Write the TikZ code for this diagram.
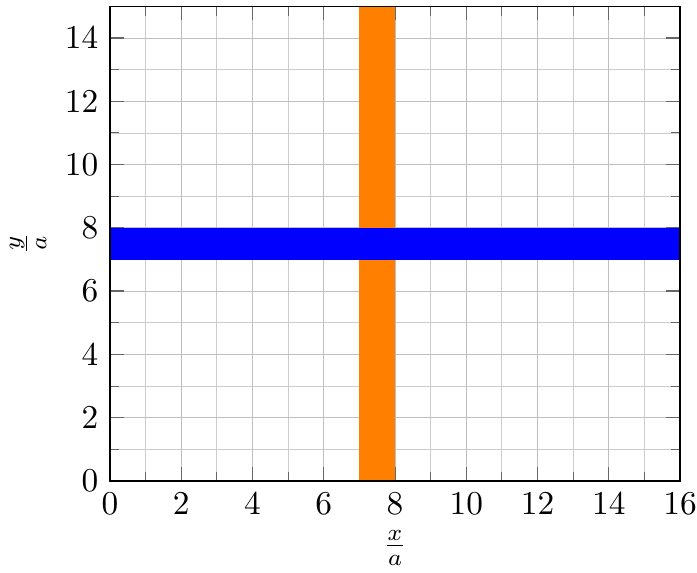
\documentclass[tikz,border=0pt]{standalone}
\usepackage{xcolor}
\definecolor{plotorange}{rgb}{1,0.5,0}
\begin{document}
\begin{tikzpicture}[x=10.6875pt,y=9.493pt,
  gridmajor/.style={draw=black!25,line width=0.3pt},
  gridminor/.style={draw=black!20,line width=0.25pt},
  majortick/.style={draw=black!60,line width=0.4pt},
  minortick/.style={draw=black!60,line width=0.3pt},
  ticklabel/.style={inner sep=0.3333em,font=\normalsize},
  axislabel/.style={inner sep=0pt}]
\useasboundingbox (-3.0877,-2.876) rectangle (16.477,15.202);
% grid
\foreach \i in {1,...,15}{\draw[gridminor] (\i,0) -- (\i,15);}
\foreach \j in {1,...,14}{\draw[gridminor] (0,\j) -- (16,\j);}
\foreach \i in {2,4,...,14}{\draw[gridmajor] (\i,0) -- (\i,15);}
\foreach \j in {2,4,...,14}{\draw[gridmajor] (0,\j) -- (16,\j);}
% ticks
\foreach \i in {1,3,...,15}{
  \draw[minortick] (\i,0) -- ++(0,2.83pt);
  \draw[minortick] (\i,15) -- ++(0,-2.83pt);}
\foreach \i in {2,4,...,14}{
  \draw[majortick] (\i,0) -- ++(0,4.2pt);
  \draw[majortick] (\i,15) -- ++(0,-4.2pt);}
\foreach \j in {1,3,...,13}{
  \draw[minortick] (0,\j) -- ++(2.83pt,0);
  \draw[minortick] (16,\j) -- ++(-2.83pt,0);}
\foreach \j in {2,4,...,14}{
  \draw[majortick] (0,\j) -- ++(4.2pt,0);
  \draw[majortick] (16,\j) -- ++(-4.2pt,0);}
% bars
\fill[plotorange] (7,0) rectangle (8,15);
\fill[blue] (0,7) rectangle (16,8);
% axis box
\draw[line width=0.4pt] (0,0) rectangle (16,15);
% tick labels
\foreach \i in {0,2,...,16}{\node[ticklabel,anchor=north] (xt\i) at (\i,0) {$\i$};}
\foreach \j in {0,2,...,14}{\node[ticklabel,anchor=east] (yt\j) at (0,\j) {$\j$};}
% axis labels
\node[axislabel] (xlab) at (8,-2.12) {$\frac{x}{a}$};
\node[axislabel,rotate=90] (ylab) at (-2.3,7.5) {$\frac{y}{a}$};
\end{tikzpicture}
\end{document}
